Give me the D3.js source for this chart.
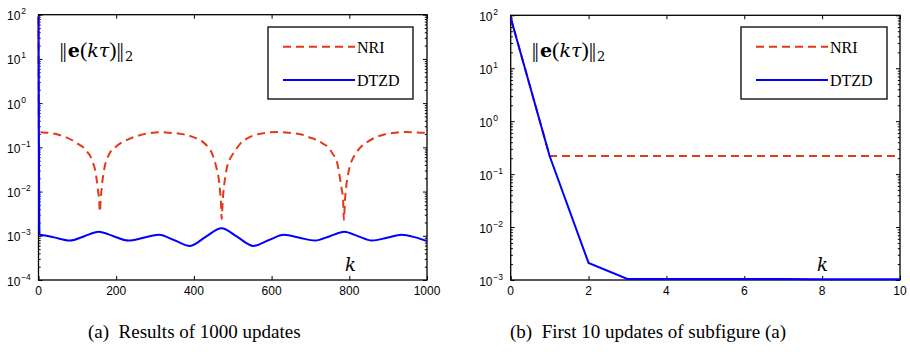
<!DOCTYPE html>
<html>
<head>
<meta charset="utf-8">
<script src="https://cdn.jsdelivr.net/npm/d3@7"></script>
<style>
  html, body { margin: 0; padding: 0; background: #fff; }
  svg { display: block; }
</style>
</head>
<body>
<svg id="chart" width="910" height="355"></svg>
<script>
// ---------------- DATA ----------------
// Panel (a): 1000 updates
const nriK_a = [0, 1, 20, 45, 70, 90, 105, 115, 125, 133, 140, 145, 150, 153, 156, 158, 160, 163, 167, 172, 180, 188, 200, 214, 235, 253, 280, 310, 335, 360, 377, 395, 411, 425, 437, 446, 454, 459, 463, 467, 469.5, 471.5, 474, 477, 481, 486, 492, 500, 510, 519, 535, 557, 585, 615, 645, 677, 700, 712, 730, 746, 758, 767.5, 772, 776, 780, 784, 786, 789, 792, 797, 803, 810, 820, 832, 848, 866, 890, 918, 945, 975, 1000];
const nriV_a = [90, 0.22, 0.215, 0.2, 0.17, 0.139, 0.115, 0.1, 0.08, 0.064, 0.045, 0.033, 0.018, 0.011, 0.0065, 0.0035, 0.0065, 0.013, 0.025, 0.042, 0.065, 0.085, 0.105, 0.128, 0.158, 0.18, 0.205, 0.22, 0.215, 0.205, 0.195, 0.175, 0.152, 0.128, 0.1, 0.075, 0.047, 0.032, 0.022, 0.011, 0.006, 0.0024, 0.006, 0.012, 0.022, 0.038, 0.053, 0.07, 0.095, 0.12, 0.155, 0.19, 0.213, 0.222, 0.213, 0.195, 0.165, 0.152, 0.125, 0.1, 0.07, 0.049, 0.033, 0.02, 0.012, 0.0066, 0.0023, 0.0066, 0.013, 0.025, 0.042, 0.058, 0.08, 0.107, 0.135, 0.166, 0.195, 0.215, 0.222, 0.218, 0.212];
const dtzdK_a = [0, 1, 2, 3, 8, 40, 81, 118, 155, 193, 231, 270, 310, 350, 390, 430, 471, 512, 553, 592, 632, 672, 712, 750, 787, 822, 858, 897, 935, 970, 1000];
const dtzdV_a = [90, 0.22, 0.0021, 0.00105, 0.00104, 0.00092, 0.00078, 0.00098, 0.00123, 0.00098, 0.00078, 0.0009, 0.00105, 0.00079, 0.00059, 0.00094, 0.00149, 0.00094, 0.00059, 0.00079, 0.00105, 0.0009, 0.00078, 0.00098, 0.00123, 0.00098, 0.00078, 0.0009, 0.00105, 0.00092, 0.00076];

// Panel (b): first 10 updates
const kB = [0, 1, 2, 3, 4, 5, 6, 7, 8, 9, 10];
const nriV_b = [90, 0.22, 0.22, 0.22, 0.22, 0.22, 0.22, 0.22, 0.22, 0.22, 0.22];
const dtzdV_b = [90, 0.22, 0.0021, 0.00105, 0.00104, 0.00104, 0.00104, 0.00104, 0.00103, 0.00103, 0.00103];

const xTicks_a = [0, 200, 400, 600, 800, 1000];
const xTicks_b = [0, 2, 4, 6, 8, 10];
const yExp_a = [-4, -3, -2, -1, 0, 1, 2];
const yExp_b = [-3, -2, -1, 0, 1, 2];
const seriesNames = ["NRI", "DTZD"];
const captions = ["(a)\u2002Results of 1000 updates", "(b)\u2002First 10 updates of subfigure (a)"];

// ---------------- STYLE ----------------
const RED = "#e2391b", BLUE = "#0000ff";
const svg = d3.select("#chart");

function fmtExp(e) { return e < 0 ? "\u2212" + Math.abs(e) : String(e); }

function panel(cfg) {
  const x = d3.scaleLinear().domain(cfg.xDomain).range([cfg.x0, cfg.x1]);
  const y = d3.scaleLog().domain([Math.pow(10, cfg.yExp[0]), Math.pow(10, cfg.yExp[cfg.yExp.length - 1])]).range([cfg.y1, cfg.y0]);
  const g = svg.append("g");

  const majors = cfg.yExp.map(e => Math.pow(10, e));
  const minors = [];
  for (let i = 0; i < cfg.yExp.length - 1; i++) {
    for (let m = 2; m <= 9; m++) minors.push(m * Math.pow(10, cfg.yExp[i]));
  }

  // axes (ticks inside)
  g.append("g").attr("transform", `translate(${cfg.x0},0)`)
    .call(d3.axisLeft(y).tickValues(majors).tickSizeInner(-4).tickFormat("").tickSizeOuter(0));
  g.append("g").attr("transform", `translate(${cfg.x0},0)`)
    .call(d3.axisLeft(y).tickValues(minors).tickSizeInner(-2.2).tickFormat("").tickSizeOuter(0));
  g.append("g").attr("transform", `translate(${cfg.x1},0)`)
    .call(d3.axisRight(y).tickValues(majors).tickSizeInner(-4).tickFormat("").tickSizeOuter(0));
  g.append("g").attr("transform", `translate(${cfg.x1},0)`)
    .call(d3.axisRight(y).tickValues(minors).tickSizeInner(-2.2).tickFormat("").tickSizeOuter(0));
  g.append("g").attr("transform", `translate(0,${cfg.y1})`)
    .call(d3.axisBottom(x).tickValues(cfg.xTicks).tickSizeInner(-4).tickFormat("").tickSizeOuter(0));
  g.append("g").attr("transform", `translate(0,${cfg.y0})`)
    .call(d3.axisTop(x).tickValues(cfg.xTicks).tickSizeInner(-4).tickFormat("").tickSizeOuter(0));
  g.selectAll(".domain").remove();
  g.selectAll(".tick line").attr("stroke", "#000").attr("stroke-width", 1);

  // box
  g.append("rect").attr("x", cfg.x0).attr("y", cfg.y0)
    .attr("width", cfg.x1 - cfg.x0).attr("height", cfg.y1 - cfg.y0)
    .attr("fill", "none").attr("stroke", "#000").attr("stroke-width", 1.3);

  // y labels
  const yl = g.selectAll("text.ylab").data(cfg.yExp).join("text")
    .attr("class", "ylab")
    .attr("x", cfg.x0 - 31.5)
    .attr("y", e => y(Math.pow(10, e)) + 5.5)
    .attr("font-family", "Liberation Sans, Arial, Helvetica, sans-serif")
    .attr("font-size", 12).attr("fill", "#000");
  yl.append("tspan").text("10");
  yl.append("tspan").attr("font-size", 8.5).attr("dx", 0.8).attr("dy", -6).text(e => fmtExp(e));

  // x labels
  g.selectAll("text.xlab").data(cfg.xTicks).join("text")
    .attr("class", "xlab")
    .attr("x", d => x(d)).attr("y", cfg.y1 + 14.5)
    .attr("text-anchor", "middle")
    .attr("font-family", "Liberation Sans, Arial, Helvetica, sans-serif")
    .attr("font-size", 12).attr("fill", "#000").text(d => d);

  // lines
  const line = d3.line().x(d => x(d[0])).y(d => y(d[1])).curve(cfg.curve);
  g.append("path").datum(d3.zip(cfg.nriK, cfg.nriV))
    .attr("d", line).attr("fill", "none").attr("stroke", RED)
    .attr("stroke-width", 2).attr("stroke-dasharray", "8,5");
  g.append("path").datum(d3.zip(cfg.dtzdK, cfg.dtzdV))
    .attr("d", line).attr("fill", "none").attr("stroke", BLUE)
    .attr("stroke-width", 2);

  // legend
  const L = cfg.legend;
  g.append("rect").attr("x", L.x).attr("y", L.y).attr("width", L.w).attr("height", L.h)
    .attr("fill", "#fff").attr("stroke", "#000").attr("stroke-width", 1.3);
  const rows = [{name: seriesNames[0], color: RED, dash: "8,5", dy: 19.7},
                {name: seriesNames[1], color: BLUE, dash: null, dy: 53}];
  rows.forEach(r => {
    g.append("line").attr("x1", L.x + 15).attr("x2", L.x + 87)
      .attr("y1", L.y + r.dy).attr("y2", L.y + r.dy)
      .attr("stroke", r.color).attr("stroke-width", 2)
      .attr("stroke-dasharray", r.dash);
    g.append("text").attr("x", L.x + 89).attr("y", L.y + r.dy + 6)
      .attr("font-family", "Liberation Serif, Times New Roman, serif")
      .attr("font-size", 16).attr("fill", "#000").text(r.name);
  });

  // annotation ||e(kτ)||_2
  const t = g.append("text").attr("x", cfg.x0 + 21).attr("y", 57)
    .attr("font-family", "DejaVu Serif, Liberation Serif, serif")
    .attr("font-size", 19).attr("fill", "#000");
  t.append("tspan").attr("font-family", "Liberation Serif").attr("font-size", 22).text("|");
  t.append("tspan").attr("font-family", "Liberation Serif").attr("font-size", 22).attr("dx", -1.5).text("|");
  t.append("tspan").attr("font-weight", "bold").attr("dx", 1).text("e");
  t.append("tspan").attr("font-family", "Liberation Serif").attr("font-size", 22).text("(");
  t.append("tspan").attr("font-style", "italic").text("k\u03C4");
  t.append("tspan").attr("font-family", "Liberation Serif").attr("font-size", 22).text(")");
  t.append("tspan").attr("font-family", "Liberation Serif").attr("font-size", 22).text("|");
  t.append("tspan").attr("font-family", "Liberation Serif").attr("font-size", 22).attr("dx", -1.5).text("|");
  t.append("tspan").attr("font-size", 13).attr("dx", 1).attr("dy", 4).text("2");

  // k label
  g.append("text").attr("x", cfg.kx).attr("y", 270.5)
    .attr("font-family", "DejaVu Serif, Liberation Serif, serif")
    .attr("font-style", "italic").attr("font-size", 18).attr("fill", "#000").text("k");

  // caption
  g.append("text").attr("x", cfg.capX).attr("y", 338)
    .attr("font-family", "Liberation Serif, Times New Roman, serif")
    .attr("font-size", 19).attr("fill", "#000").text(cfg.caption);
}

panel({
  x0: 38.5, x1: 427, y0: 14.7, y1: 280,
  xDomain: [0, 1000], xTicks: xTicks_a, yExp: yExp_a,
  nriK: nriK_a, nriV: nriV_a, dtzdK: dtzdK_a, dtzdV: dtzdV_a,
  curve: d3.curveMonotoneX,
  legend: {x: 268, y: 27, w: 145, h: 72},
  kx: 345, capX: 88, caption: captions[0]
});
panel({
  x0: 510.7, x1: 900, y0: 15.3, y1: 280,
  xDomain: [0, 10], xTicks: xTicks_b, yExp: yExp_b,
  nriK: kB, nriV: nriV_b, dtzdK: kB, dtzdV: dtzdV_b,
  curve: d3.curveLinear,
  legend: {x: 741, y: 27, w: 146, h: 72},
  kx: 817, capX: 510, caption: captions[1]
});
</script>
</body>
</html>
